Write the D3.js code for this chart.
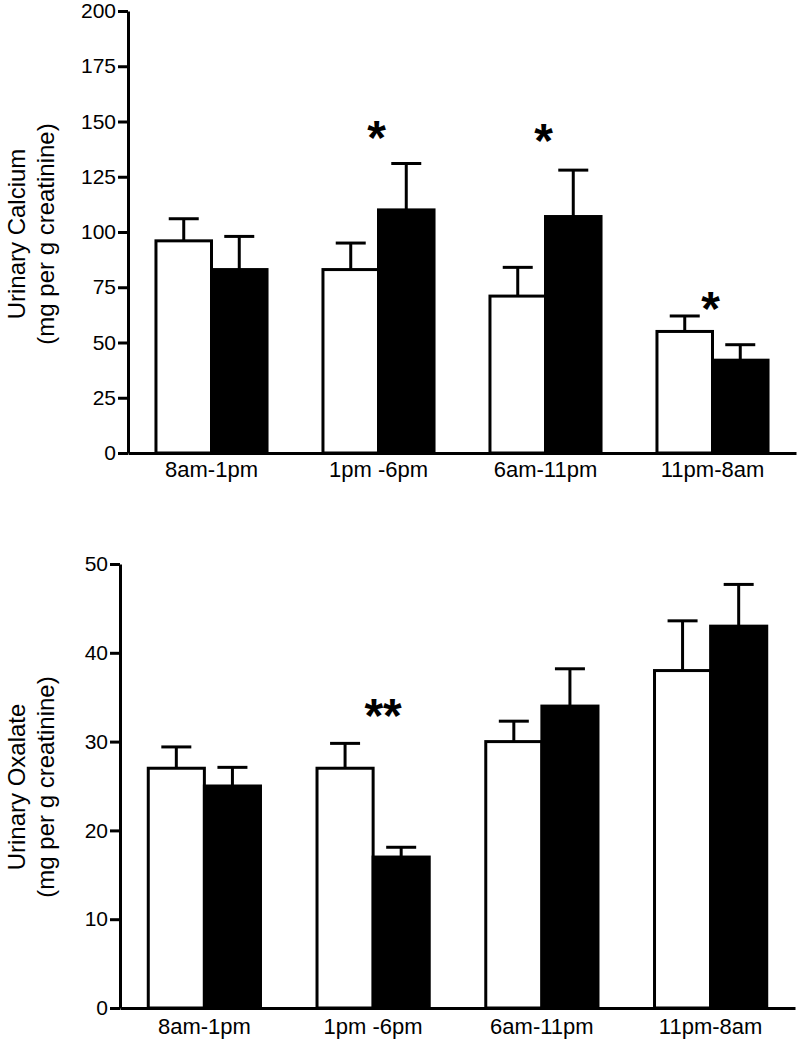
<!DOCTYPE html>
<html>
<head>
<meta charset="utf-8">
<script src="https://cdn.jsdelivr.net/npm/d3@7"></script>
<style>
  body { margin: 0; background: #fff; }
  svg text { font-family: "Liberation Sans", Arial, sans-serif; fill: #000; }
</style>
</head>
<body>
<div class="chart"></div>
<script>
'use strict';

// ---------------------------------------------------------------
// data
// ---------------------------------------------------------------
var categories = ['8am-1pm', '1pm -6pm', '6am-11pm', '11pm-8am'];
var groups = ['open', 'filled'];

var calciumOpen = [96, 83, 71, 55];
var calciumOpenErr = [10, 12, 13, 7];
var calciumFilled = [83, 110, 107, 42];
var calciumFilledErr = [15, 21, 21, 7];
var calciumTicks = [0, 25, 50, 75, 100, 125, 150, 175, 200];
var calciumMarks = ['', '*', '*', '*'];
var calciumMarkLevel = [null, 146, 145, 69];

var oxalateOpen = [27, 27, 30, 38];
var oxalateOpenErr = [2.4, 2.8, 2.3, 5.6];
var oxalateFilled = [25, 17, 34, 43];
var oxalateFilledErr = [2.1, 1.1, 4.2, 4.7];
var oxalateTicks = [0, 10, 20, 30, 40, 50];
var oxalateMarks = ['', '**', '', ''];
var oxalateMarkLevel = [null, 33.8, null, null];

// ---------------------------------------------------------------
// svg
// ---------------------------------------------------------------
var w = 800,
    h = 1044;

var svg = d3.select('.chart')
    .append('svg')
    .attr('width', w)
    .attr('height', h);

// ---------------------------------------------------------------
// one panel
// ---------------------------------------------------------------
var makePanel = function(opt) {

    var rows = categories.map(function(c, i) {
        return {
            cat: c,
            open: opt.open[i], openErr: opt.openErr[i],
            filled: opt.filled[i], filledErr: opt.filledErr[i],
            mark: opt.marks[i], markLevel: opt.markLevel[i]
        };
    });

    var x0 = d3.scaleBand()
        .domain(categories)
        .range([opt.left, opt.right])
        .paddingInner(0.335)
        .paddingOuter(0.1675);

    var x1 = d3.scaleBand()
        .domain(groups)
        .range([0, x0.bandwidth()]);

    var y = d3.scaleLinear()
        .domain([0, opt.max])
        .range([opt.bottom, opt.top]);

    var g = svg.append('g');

    // bars
    var grp = g.selectAll('g.grp')
        .data(rows)
        .enter()
        .append('g')
        .attr('class', 'grp')
        .attr('transform', function(d) { return 'translate(' + x0(d.cat) + ',0)'; });

    var bars = grp.selectAll('g.bar')
        .data(function(d) {
            return groups.map(function(k) {
                return { key: k, v: d[k], e: d[k + 'Err'] };
            });
        })
        .enter()
        .append('g')
        .attr('class', 'bar');

    // error bars (upper half only)
    bars.append('line')
        .attr('x1', function(d) { return x1(d.key) + x1.bandwidth() / 2; })
        .attr('x2', function(d) { return x1(d.key) + x1.bandwidth() / 2; })
        .attr('y1', function(d) { return y(d.v); })
        .attr('y2', function(d) { return y(d.v + d.e); })
        .attr('stroke', '#000')
        .attr('stroke-width', 3);

    bars.append('line')
        .attr('x1', function(d) { return x1(d.key) + x1.bandwidth() / 2 - 15; })
        .attr('x2', function(d) { return x1(d.key) + x1.bandwidth() / 2 + 15; })
        .attr('y1', function(d) { return y(d.v + d.e); })
        .attr('y2', function(d) { return y(d.v + d.e); })
        .attr('stroke', '#000')
        .attr('stroke-width', 3);

    bars.append('rect')
        .attr('x', function(d) { return x1(d.key); })
        .attr('width', x1.bandwidth())
        .attr('y', function(d) { return y(d.v); })
        .attr('height', function(d) { return y(0) - y(d.v); })
        .attr('fill', function(d) { return d.key === 'open' ? '#fff' : '#000'; })
        .attr('stroke', '#000')
        .attr('stroke-width', 3);

    // significance marks
    g.selectAll('text.mark')
        .data(rows.filter(function(d) { return d.mark !== ''; }))
        .enter()
        .append('text')
        .attr('class', 'mark')
        .attr('x', function(d) { return x0(d.cat) + x0.bandwidth() / 2 + opt.markShift; })
        .attr('y', function(d) { return y(d.markLevel) + 24; })
        .attr('text-anchor', 'middle')
        .attr('font-size', 48)
        .attr('font-weight', 'bold')
        .text(function(d) { return d.mark; });

    // y axis
    var yAxis = g.append('g')
        .attr('transform', 'translate(' + opt.left + ',0)')
        .call(d3.axisLeft(y).tickValues(opt.ticks).tickSize(10).tickSizeOuter(0).tickPadding(2));

    yAxis.select('.domain').attr('stroke-width', 3);
    yAxis.selectAll('.tick line').attr('stroke-width', 3);
    yAxis.selectAll('.tick text')
        .attr('font-size', 21)
        .attr('font-family', '"Liberation Sans", Arial, sans-serif')
        .attr('fill', '#000');

    // x axis
    var xAxis = g.append('g')
        .attr('transform', 'translate(0,' + opt.bottom + ')')
        .call(d3.axisBottom(x0).tickSize(0).tickSizeOuter(0).tickPadding(opt.labelPad));

    xAxis.select('.domain').attr('stroke-width', 3);
    xAxis.selectAll('.tick text')
        .attr('font-size', 22)
        .attr('font-family', '"Liberation Sans", Arial, sans-serif')
        .attr('fill', '#000');

    // y title
    var title = g.append('text')
        .attr('transform', 'translate(' + opt.titleX + ',' + opt.titleY + ') rotate(-90)')
        .attr('text-anchor', 'middle')
        .attr('font-size', 24);

    title.append('tspan')
        .attr('x', 0)
        .attr('dy', 0)
        .text(opt.title);

    title.append('tspan')
        .attr('x', 0)
        .attr('dy', 29)
        .text('(mg per g creatinine)');
};

makePanel({
    open: calciumOpen, openErr: calciumOpenErr,
    filled: calciumFilled, filledErr: calciumFilledErr,
    marks: calciumMarks, markLevel: calciumMarkLevel,
    ticks: calciumTicks, max: 200,
    left: 128, right: 796, top: 11, bottom: 453,
    title: 'Urinary Calcium', titleX: 25, titleY: 234,
    labelPad: 8, markShift: -2
});

makePanel({
    open: oxalateOpen, openErr: oxalateOpenErr,
    filled: oxalateFilled, filledErr: oxalateFilledErr,
    marks: oxalateMarks, markLevel: oxalateMarkLevel,
    ticks: oxalateTicks, max: 50,
    left: 120, right: 795, top: 564, bottom: 1008,
    title: 'Urinary Oxalate', titleX: 25, titleY: 787,
    labelPad: 10, markShift: 10
});
</script>
</body>
</html>
